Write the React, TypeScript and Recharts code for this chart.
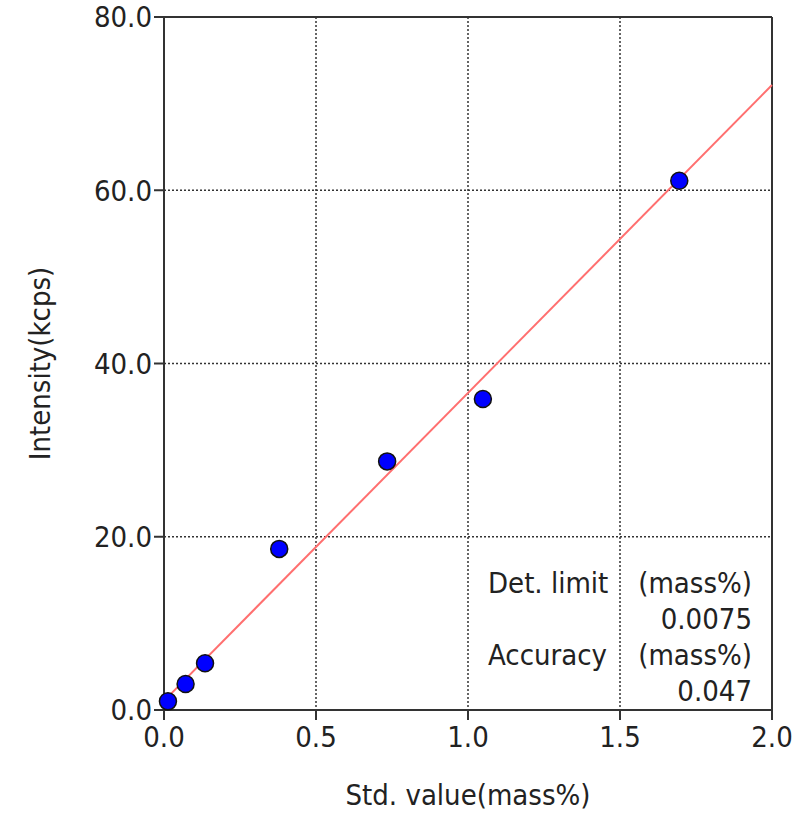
import React from "react";
import {
  ScatterChart,
  Scatter,
  XAxis,
  YAxis,
  CartesianGrid,
  ReferenceLine,
} from "recharts";

// measured standards: std value (mass%) vs intensity (kcps)
const stdValues = [0.013, 0.071, 0.135, 0.379, 0.734, 1.049, 1.695];
const intensities = [1.0, 3.0, 5.4, 18.6, 28.7, 35.9, 61.1];

// calibration line end points
const fitX = [0, 2.0];
const fitY = [1.05, 72.15];

const xTicks = [0, 0.5, 1.0, 1.5, 2.0];
const yTicks = [0, 20, 40, 60, 80];

const points = stdValues.map((x, i) => ({ x, y: intensities[i] }));
const fitLine = fitX.map((x, i) => ({ x, y: fitY[i] }));

const FONT = "'DejaVu Sans Condensed', 'DejaVu Sans', sans-serif";
const AXIS = "#333";
const FS = 29;

const Dot = (props: any) => (
  <circle cx={props.cx} cy={props.cy} r={8.5} fill="#0000ff" stroke="#111" strokeWidth={1.5} />
);

export default function App() {
  const txt = { fontFamily: FONT, fontSize: FS, fill: "#222" };
  return (
    <div style={{ position: "absolute", left: 0, top: 0, width: 802, height: 813, background: "#fff" }}>
      <ScatterChart width={802} height={813} margin={{ top: 17, right: 30, bottom: 53, left: 0 }}>
        <CartesianGrid stroke={AXIS} strokeDasharray="2 2" strokeWidth={1.5} />
        <XAxis
          type="number"
          dataKey="x"
          domain={[0, 2]}
          ticks={xTicks}
          tickFormatter={(v) => v.toFixed(1)}
          height={50}
          stroke={AXIS}
          strokeWidth={2}
          tickSize={10}
          tickMargin={6}
          tick={txt}
          label={{
            content: (p: any) => (
              <text x={p.viewBox.x + p.viewBox.width / 2} y={797} textAnchor="middle" dominantBaseline="middle" style={txt}>
                Std. value(mass%)
              </text>
            ),
          }}
        />
        <YAxis
          type="number"
          dataKey="y"
          domain={[0, 80]}
          ticks={yTicks}
          tickFormatter={(v) => v.toFixed(1)}
          width={164}
          stroke={AXIS}
          strokeWidth={2}
          tickSize={10}
          tickMargin={2}
          tick={txt}
          label={{
            content: (p: any) => {
              const cx = 42;
              const cy = p.viewBox.y + p.viewBox.height / 2;
              return (
                <text x={cx} y={cy} textAnchor="middle" dominantBaseline="middle" transform={`rotate(-90 ${cx} ${cy})`} style={txt}>
                  Intensity(kcps)
                </text>
              );
            },
          }}
        />
        <ReferenceLine y={80} stroke={AXIS} strokeWidth={2} />
        <ReferenceLine x={2} stroke={AXIS} strokeWidth={2} />
        <Scatter
          data={fitLine}
          line={{ stroke: "#ff6f6f", strokeWidth: 2 }}
          shape={() => null}
          isAnimationActive={false}
        />
        <Scatter data={points} shape={Dot} isAnimationActive={false} />
      </ScatterChart>
      <div style={{ position: "absolute", left: 488, top: 565, width: 264, fontFamily: FONT, fontSize: FS, color: "#222", lineHeight: "36px" }}>
        <div style={{ display: "flex", justifyContent: "space-between" }}>
          <span>Det. limit</span>
          <span>(mass%)</span>
        </div>
        <div style={{ textAlign: "right" }}>0.0075</div>
        <div style={{ display: "flex", justifyContent: "space-between" }}>
          <span>Accuracy</span>
          <span>(mass%)</span>
        </div>
        <div style={{ textAlign: "right" }}>0.047</div>
      </div>
    </div>
  );
}
